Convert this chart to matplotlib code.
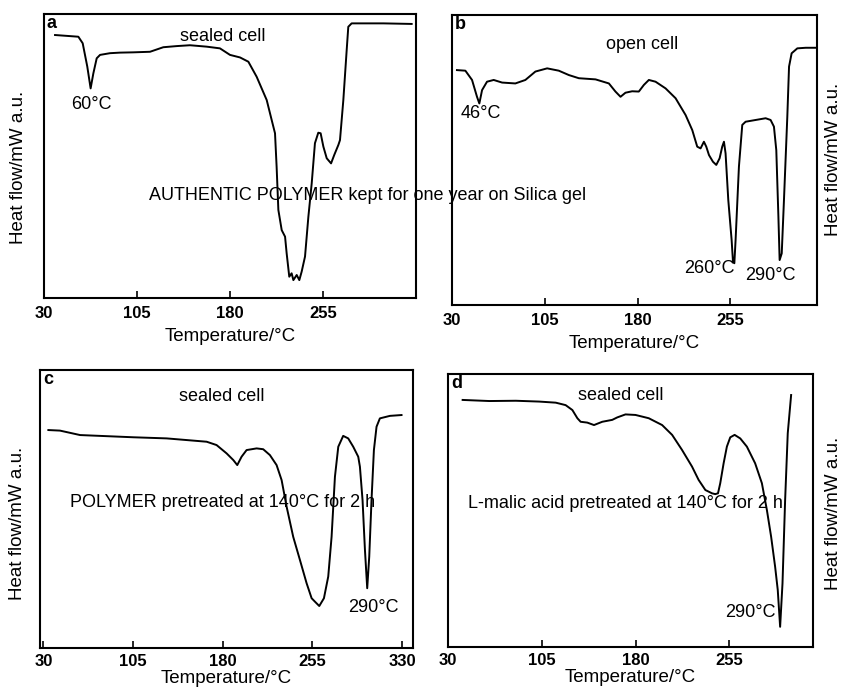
import numpy as np
import matplotlib
matplotlib.use("Agg")
import matplotlib.pyplot as plt

plt.rcParams['font.family'] = ['Liberation Sans', 'DejaVu Sans']

W, H = 844, 693

# --- panel a: authentic polymer, sealed cell ---
a_temp = [38.9, 57.7, 61.2, 64.9, 67.6, 69.8, 72.5, 75.2, 83.2, 91.3, 102.0, 115.5,
          126.2, 137.0, 147.7, 161.2, 171.9, 180.0, 188.1, 194.8, 201.5, 209.6, 213.6,
          216.3, 217.6, 219.0, 221.7, 224.4, 225.7, 227.8, 229.7, 231.1, 233.8, 235.9,
          237.8, 240.5, 243.2, 245.9, 248.5, 251.2, 253.1, 255.3, 258.0, 261.5, 264.1,
          267.4, 268.7, 271.4, 274.1, 275.4, 278.1, 303.7, 326.5]
a_flow = [92.6, 92.0, 89.7, 81.5, 73.8, 79.1, 84.4, 85.6, 86.2, 86.4, 86.5, 86.7,
          88.3, 88.7, 89.0, 88.5, 87.9, 85.6, 84.7, 83.2, 77.9, 69.7, 62.7,
          58.0, 46.2, 31.0, 23.9, 21.6, 15.7, 7.5, 8.7, 6.3, 8.1, 6.3,
          9.3, 14.6, 28.6, 40.4, 54.5, 58.2, 58.0, 53.3, 49.2, 47.4, 50.4,
          53.9, 55.6, 69.7, 87.3, 95.5, 96.7, 96.7, 96.5]

# --- panel b: authentic polymer, open cell ---
b_temp = [34.0, 40.8, 46.2, 50.2, 52.1, 54.3, 58.3, 63.7, 70.5, 81.2, 89.3, 97.4,
          106.9, 116.3, 124.4, 132.5, 146.0, 156.8, 162.1, 166.2, 170.2, 175.6, 181.0,
          185.1, 189.1, 194.5, 202.6, 210.7, 218.8, 224.2, 228.2, 230.9, 233.6, 235.5,
          237.7, 240.9, 243.6, 246.3, 248.4, 249.8, 251.1, 253.3, 256.0, 257.1, 258.2,
          259.2, 261.9, 264.6, 267.3, 275.4, 283.5, 287.5, 290.2, 292.1, 293.8, 294.8,
          296.5, 298.3, 301.0, 302.4, 304.5, 309.1, 315.9, 324.0]
b_flow = [81.0, 80.8, 77.6, 71.8, 69.5, 74.1, 77.0, 77.6, 76.7, 76.4, 77.6, 80.5,
          81.6, 80.8, 79.3, 78.2, 77.8, 76.4, 73.6, 71.8, 73.2, 73.7, 73.6,
          75.9, 77.6, 77.0, 74.7, 71.3, 65.5, 60.3, 54.6, 54.0, 56.3, 54.6,
          51.7, 49.4, 48.3, 50.6, 54.6, 56.3, 52.3, 36.2, 22.4, 14.9, 14.4,
          22.4, 47.7, 62.1, 63.2, 63.8, 64.4, 63.8, 61.5, 53.4, 30.5, 15.5,
          17.8, 36.2, 64.9, 82.2, 86.8, 88.5, 88.7, 88.7]

# --- panel c: polymer pretreated at 140 C ---
c_temp = [34.2, 43.9, 60.7, 77.4, 105.3, 133.1, 149.8, 166.6, 174.9, 183.3, 188.9,
          192.2, 195.8, 200.0, 208.4, 213.9, 219.5, 225.1, 229.3, 233.5, 239.0, 244.6,
          250.2, 254.4, 257.1, 260.8, 264.7, 268.3, 271.1, 273.9, 276.7, 280.8, 285.0,
          289.2, 293.4, 294.8, 297.0, 299.0, 300.9, 302.6, 304.5, 306.5, 308.7, 311.5,
          319.9, 329.6]
c_flow = [78.4, 78.2, 76.6, 76.3, 75.8, 75.4, 74.8, 74.2, 73.0, 70.0, 67.6,
          65.8, 68.8, 71.2, 71.8, 71.5, 69.4, 65.8, 60.4, 50.8, 40.0, 31.7,
          23.3, 17.9, 16.7, 15.1, 17.9, 25.7, 40.0, 61.6, 72.4, 76.3, 75.4,
          72.4, 68.8, 65.2, 53.2, 35.3, 21.5, 32.9, 53.2, 71.2, 79.6, 82.6,
          83.5, 83.8]

# --- panel d: L-malic acid pretreated at 140 C ---
d_temp = [41.7, 63.0, 84.3, 102.9, 116.2, 124.1, 129.5, 133.5, 136.1, 141.4, 146.8,
          153.4, 161.4, 165.4, 172.0, 180.0, 190.6, 201.3, 209.3, 217.2, 225.2, 230.5,
          235.9, 241.2, 243.8, 246.0, 247.8, 250.5, 253.1, 255.8, 259.3, 263.8, 269.1,
          275.7, 281.1, 285.1, 288.5, 291.7, 293.8, 295.7, 297.6, 299.7, 301.8, 304.5]
d_flow = [90.5, 90.1, 90.2, 89.9, 89.5, 88.6, 86.8, 83.8, 82.5, 82.2, 81.3,
          82.5, 83.2, 84.1, 85.2, 85.0, 83.8, 81.3, 77.7, 72.2, 66.1, 61.2,
          57.5, 56.3, 56.0, 56.3, 60.0, 67.3, 73.4, 76.8, 77.7, 76.4, 73.4,
          67.3, 60.0, 50.2, 40.4, 29.4, 20.9, 7.4, 23.3, 53.8, 78.3, 92.3]

ticks_abd = [30, 105, 180, 255]
ticks_c = [30, 105, 180, 255, 330]

FS = 13

fig = plt.figure(figsize=(W / 100, H / 100), dpi=100)


def px_axes(l, t, r, b):
    return fig.add_axes([l / W, 1 - b / H, (r - l) / W, (b - t) / H])


def setup(ax, temp, flow, xlim, ticks, letter, lpad=5, tpad=6):
    ax.plot(temp, flow, color='black', lw=1.4)
    ax.set_xlim(*xlim)
    ax.set_ylim(0, 100)
    ax.set_xticks(ticks)
    ax.set_xticklabels([str(t) for t in ticks], fontsize=12, fontweight='bold')
    ax.set_yticks([])
    ax.tick_params(axis='x', direction='in', length=5, width=1.2, pad=tpad)
    for s in ax.spines.values():
        s.set_linewidth(1.5)
    ax.set_xlabel('Temperature/°C', fontsize=13.5, labelpad=lpad)
    ax.text(0.008, 0.997, letter, transform=ax.transAxes, fontsize=13,
            fontweight='bold', ha='left', va='top')


ax_a = px_axes(44, 14, 416, 298)
setup(ax_a, a_temp, a_flow, (30, 330), ticks_abd, 'a')
ax_a.text(174, 92, 'sealed cell', fontsize=FS, ha='center', va='center')
ax_a.text(68, 68, '60°C', fontsize=FS, ha='center', va='center')

ax_b = px_axes(452, 15, 817, 305)
setup(ax_b, b_temp, b_flow, (30, 325), ticks_abd, 'b')
ax_b.text(184, 89.7, 'open cell', fontsize=FS, ha='center', va='center')
ax_b.text(53, 66, '46°C', fontsize=FS, ha='center', va='center')
ax_b.text(238, 12.7, '260°C', fontsize=FS, ha='center', va='center')
ax_b.text(287, 10.3, '290°C', fontsize=FS, ha='center', va='center')

ax_c = px_axes(40, 370, 413, 648)
setup(ax_c, c_temp, c_flow, (27.2, 339.2), ticks_c, 'c', lpad=1, tpad=4)
ax_c.text(179, 90.3, 'sealed cell', fontsize=FS, ha='center', va='center')
ax_c.text(180, 52.5, 'POLYMER pretreated at 140°C for 2 h', fontsize=FS,
          ha='center', va='center')
ax_c.text(306, 14.4, '290°C', fontsize=FS, ha='center', va='center')

ax_d = px_axes(448, 374, 813, 647)
setup(ax_d, d_temp, d_flow, (30, 322), ticks_abd, 'd', lpad=1, tpad=4)
ax_d.text(168, 92.3, 'sealed cell', fontsize=FS, ha='center', va='center')
ax_d.text(172, 52.7, 'L-malic acid pretreated at 140°C for 2 h', fontsize=FS,
          ha='center', va='center')
ax_d.text(272, 12.8, '290°C', fontsize=FS, ha='center', va='center')

# caption spanning panels a and b
fig.text(368 / W, 1 - 195 / H, 'AUTHENTIC POLYMER kept for one year on Silica gel',
         fontsize=FS, ha='center', va='center')

# y labels (left for a, c; right edge for b, d)
for x, y in [(19, 167), (18, 523), (834, 159), (834, 513)]:
    fig.text(x / W, 1 - y / H, 'Heat flow/mW a.u.', rotation=90, fontsize=13.5,
             ha='center', va='center')

fig.savefig('out.png', dpi=100)
